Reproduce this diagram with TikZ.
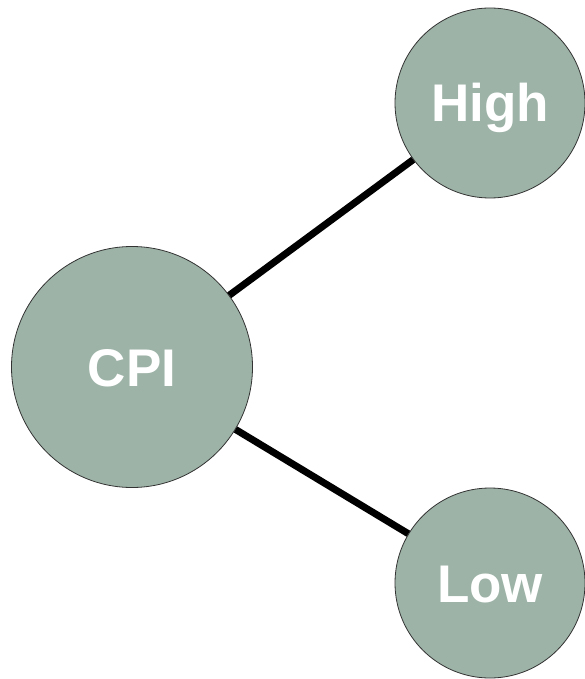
\documentclass[tikz,border=0pt]{standalone}
\usepackage{fontspec}
\setmainfont{Liberation Sans}
\definecolor{nodefill}{RGB}{157,179,167}
\begin{document}
\begin{tikzpicture}[x=1pt,y=-1pt,
  bubble/.style={circle,draw=black!80,line width=0.8pt,fill=nodefill,inner sep=0pt,
    font=\fontsize{53}{60}\selectfont\bfseries,text=white,text height=38pt,text depth=0pt},
  link/.style={line width=7pt,black}]
\useasboundingbox (0,0) rectangle (585,679);
\node[bubble,minimum size=241pt] (cpi) at (132,367) {CPI};
\node[bubble,minimum size=190pt] (high) at (490,103) {High};
\node[bubble,minimum size=190pt] (low) at (490,583) {Low};
\draw[link] (cpi) -- (high);
\draw[link] (cpi) -- (low);
\end{tikzpicture}
\end{document}
